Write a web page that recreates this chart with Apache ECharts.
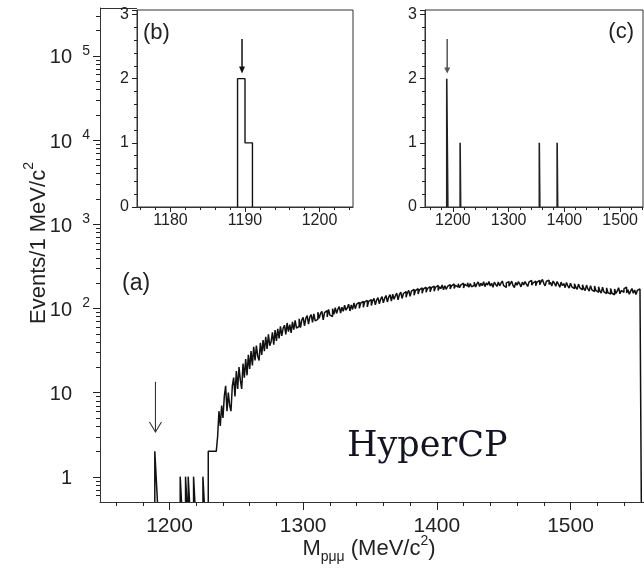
<!DOCTYPE html>
<html><head><meta charset="utf-8">
<script src="https://cdn.jsdelivr.net/npm/echarts@6/dist/echarts.min.js"></script>
<style>html,body{margin:0;padding:0;background:#fff}#c{width:644px;height:574px}</style>
</head><body><div id="c"></div>
<script>
// ---------- DATA ----------
// Main histogram (a), 1 MeV bins. Sparse low-mass region 1189..1235
const lowBinStart = 1189;
const lowCounts = [2,1, 0,0,0,0,0,0,0,0,0,0,0,0,0,0,0,0,0, 1, 0,0,0, 1, 0, 1, 0,0,0, 1, 0,0,0,0,0,0, 1, 0,0,0, 2,2,2,2,2,2,2];
// Continuum 1236..1552
const contBinStart = 1236;
const contCounts = [
  3, 6, 4, 7, 5, 9, 12, 6, 10, 7,
  6, 12, 15, 9, 18, 11, 20, 14, 11, 22,
  15, 25, 16, 28, 19, 31, 21, 35, 24, 36,
  27, 24, 39, 28, 42, 31, 46, 33, 49, 36,
  40, 52, 37, 55, 41, 57, 44, 61, 47, 58,
  63, 49, 67, 53, 64, 51, 69, 56, 72, 58,
  61, 75, 59, 73, 78, 62, 76, 82, 65, 79,
  84, 68, 86, 71, 74, 90, 76, 87, 92, 73,
  89, 94, 79, 97, 83, 80, 99, 85, 102, 87,
  98, 105, 88, 103, 92, 109, 95, 101, 112, 93,
  110, 97, 116, 99, 112, 118, 100, 115, 121, 103,
  119, 124, 104, 121, 127, 108, 123, 131, 110, 126,
  134, 113, 129, 138, 116, 132, 142, 119, 136, 145,
  122, 147, 128, 141, 152, 126, 146, 156, 131, 150,
  158, 135, 154, 163, 139, 160, 168, 143, 162, 171,
  148, 166, 175, 151, 170, 178, 155, 172, 181, 157,
  176, 184, 160, 178, 187, 163, 181, 171, 189, 166,
  186, 168, 182, 192, 170, 185, 195, 172, 188, 179,
  196, 176, 190, 199, 174, 193, 183, 201, 178, 197,
  180, 188, 204, 179, 195, 206, 182, 198, 186, 207,
  181, 200, 189, 209, 184, 198, 178, 205, 193, 182,
  206, 185, 199, 211, 186, 177, 201, 208, 183, 196,
  210, 187, 176, 203, 188, 207, 195, 180, 205, 190,
  208, 194, 182, 206, 214, 189, 200, 211, 186, 205,
  215, 191, 207, 220, 198, 185, 210, 216, 192, 204,
  184, 211, 199, 183, 208, 193, 178, 205, 186, 197,
  176, 203, 185, 174, 199, 180, 171, 196, 178, 168,
  194, 175, 166, 191, 172, 162, 189, 170, 160, 186,
  166, 158, 184, 163, 155, 180, 161, 152, 178, 157,
  150, 175, 154, 148, 172, 151, 145, 170, 150, 161,
  176, 149, 163, 155, 171, 178, 152, 166, 147, 160,
  172, 151, 165, 146, 163, 170, 160
];
// Inset (b): signal region
const insetBBins = [1189, 1190];
const insetBCounts = [2, 1];
// Inset (c): events after final cuts
const insetCBins = [1189, 1190, 1213, 1355, 1387];
const insetCCounts = [2, 1, 1, 1, 1];

// Arrows [x, from, to]
const arrowA = [1189.5, 13.4, 3.4];
const arrowB = [1189.6, 2.62, 2.08];
const arrowC = [1189.8, 2.62, 2.08];

// Tick values
const mainXTicks = [1200, 1300, 1400, 1500];
const mainXMinor = [1160, 1180, 1220, 1240, 1260, 1280, 1320, 1340, 1360, 1380, 1420, 1440, 1460, 1480, 1520, 1540];
const mainYDecades = [1, 10, 100, 1000, 10000, 100000];
const mainYMinorMult = [2, 3, 4, 5, 6, 7, 8, 9];
const bXTicks = [1180, 1190, 1200];
const bXMinor = [1176, 1178, 1182, 1184, 1186, 1188, 1192, 1194, 1196, 1198, 1202, 1204];
const cXTicks = [1200, 1300, 1400, 1500];
const cXMinor = [1160, 1180, 1220, 1240, 1260, 1280, 1320, 1340, 1360, 1380, 1420, 1440, 1460, 1480, 1520, 1540];

// ---------- helpers ----------
function stepPoints(binStart, counts, floor) {
  const pts = [];
  let prevZero = true;
  for (let i = 0; i < counts.length; i++) {
    const x0 = binStart + i, v = counts[i];
    if (v <= 0) {
      if (!prevZero) { pts.push([x0, floor]); pts.push([x0, null]); }
      prevZero = true; continue;
    }
    if (prevZero) pts.push([x0, floor]);
    pts.push([x0, v]); pts.push([x0 + 1, v]);
    prevZero = false;
  }
  if (!prevZero) pts.push([binStart + counts.length, floor]);
  return pts;
}
function sparseToDense(bins, counts) {
  const s = Math.min(...bins), e = Math.max(...bins);
  const arr = new Array(e - s + 1).fill(0);
  bins.forEach((b, i) => { arr[b - s] += counts[i]; });
  return { start: s, counts: arr };
}

const FONT = 'Liberation Sans';
const AX = '#333', TK = '#222', TX = '#222', LN = '#111';

const mainXMin = 1148, mainXMax = 1555, mainYMin = 0.5, mainYMax = 3.7e5;
const mainPts = stepPoints(lowBinStart, lowCounts.concat(contCounts), mainYMin);
const bD = sparseToDense(insetBBins, insetBCounts);
const cD = sparseToDense(insetCBins, insetCCounts);
const bPts = stepPoints(bD.start, bD.counts, 0);
const cPts = stepPoints(cD.start, cD.counts, 0);

// positions of the log-axis ticks (drawn through the axis scale)
const majorTickData = mainYDecades.map(v => [mainXMin, v]);
const minorTickData = [];
[0.1, 1, 10, 100, 1000, 10000, 100000].forEach(d => mainYMinorMult.forEach(k => {
  const v = k * d;
  if (v > mainYMin && v < mainYMax) minorTickData.push([mainXMin, v]);
}));

function xAxisPair(grid, min, max, ticks, minor, fs, margin, majLen, minLen) {
  return [{
    type: 'value', gridIndex: grid, min, max, position: 'bottom',
    axisLine: { show: true, onZero: false, lineStyle: { color: AX, width: 1 } },
    axisTick: { show: true, customValues: ticks, length: majLen, lineStyle: { color: TK } },
    axisLabel: { show: true, customValues: ticks, fontSize: fs, fontFamily: FONT, color: TX, margin,
      formatter: v => String(Math.round(v)) },
    splitLine: { show: false }
  }, {
    type: 'value', gridIndex: grid, min, max, position: 'bottom',
    axisLine: { show: false, onZero: false },
    axisTick: { show: true, customValues: minor, length: minLen, lineStyle: { color: TK } },
    axisLabel: { show: false }, splitLine: { show: false }
  }];
}
function insetY(grid) {
  return {
    type: 'value', gridIndex: grid, min: 0, max: 3.07, interval: 1,
    axisLine: { show: true, onZero: false, lineStyle: { color: AX } },
    axisTick: { show: true, length: 5, lineStyle: { color: TK } },
    minorTick: { show: true, splitNumber: 5, length: 3, lineStyle: { color: TK } },
    axisLabel: { fontSize: 16, fontFamily: FONT, color: TX, margin: 8,
      formatter: v => (Math.abs(v - Math.round(v)) < 1e-6 ? String(Math.round(v)) : '') },
    splitLine: { show: false }
  };
}
function arrowSeries(xi, yi, data, filled, color, hl, hw, lw) {
  return {
    type: 'custom', xAxisIndex: xi, yAxisIndex: yi, clip: false, silent: true, z: 5,
    data: [data],
    renderItem: (params, api) => {
      const p1 = api.coord([api.value(0), api.value(1)]);
      const p2 = api.coord([api.value(0), api.value(2)]);
      const children = [];
      if (filled) {
        children.push({ type: 'line', shape: { x1: p1[0], y1: p1[1], x2: p2[0], y2: p2[1] - hl + 1 }, style: { stroke: color, lineWidth: lw } });
        children.push({ type: 'polygon', shape: { points: [[p2[0] - hw, p2[1] - hl], [p2[0] + hw, p2[1] - hl], [p2[0], p2[1]]] }, style: { fill: color } });
      } else {
        children.push({ type: 'line', shape: { x1: p1[0], y1: p1[1], x2: p2[0], y2: p2[1] }, style: { stroke: color, lineWidth: lw } });
        children.push({ type: 'polyline', shape: { points: [[p2[0] - hw, p2[1] - hl], [p2[0], p2[1]], [p2[0] + hw, p2[1] - hl]] }, style: { stroke: color, lineWidth: lw, fill: null } });
      }
      return { type: 'group', children };
    }
  };
}
function tickSeries(data, len, color) {
  return {
    type: 'custom', xAxisIndex: 0, yAxisIndex: 0, clip: false, silent: true, z: 6,
    data: data,
    renderItem: (params, api) => {
      const p = api.coord([api.value(0), api.value(1)]);
      return { type: 'rect', shape: { x: p[0] - len, y: Math.round(p[1]), width: len, height: 1 }, style: { fill: color } };
    }
  };
}

const chart = echarts.init(document.getElementById('c'), null, { renderer: 'canvas' });
chart.setOption({
  animation: false,
  backgroundColor: '#fff',
  grid: [
    { left: 100, top: 8, right: -2, bottom: 72, show: false },
    { left: 137, top: 10, width: 216, height: 197, show: true, borderColor: AX, borderWidth: 1, backgroundColor: '#fff' },
    { left: 425, top: 10, width: 218, height: 197, show: true, borderColor: AX, borderWidth: 1, backgroundColor: '#fff' }
  ],
  xAxis: [].concat(
    xAxisPair(0, mainXMin, mainXMax, mainXTicks, mainXMinor, 21, 14, 8, 4),
    xAxisPair(1, 1175.5, 1204.5, bXTicks, bXMinor, 16, 6, 5, 3),
    xAxisPair(2, 1150, 1541, cXTicks, cXMinor, 16, 6, 5, 3)
  ),
  yAxis: [
    {
      type: 'log', gridIndex: 0, min: mainYMin, max: mainYMax, logBase: 10, position: 'left',
      axisLine: { show: true, onZero: false, lineStyle: { color: AX } },
      axisTick: { show: false },
      splitLine: { show: false },
      axisLabel: {
        margin: 10, align: 'right',
        formatter: v => {
          const l = Math.log10(v), e = Math.round(l);
          if (Math.abs(l - e) > 1e-3) return '';
          if (e === 0) return '{b|1}{p| }';
          if (e === 1) return '{b|10}{p| }';
          return '{b|10}{s|' + e + '}';
        },
        rich: {
          b: { fontSize: 20, lineHeight: 24, verticalAlign: 'bottom', fontFamily: FONT, color: TX },
          s: { fontSize: 14, lineHeight: 14, verticalAlign: 'top', width: 18, align: 'right', fontFamily: FONT, color: TX },
          p: { fontSize: 14, width: 18, fontFamily: FONT, color: TX }
        }
      }
    },
    insetY(1),
    insetY(2)
  ],
  series: [
    { type: 'line', xAxisIndex: 0, yAxisIndex: 0, data: mainPts, showSymbol: false, symbol: 'none', connectNulls: false,
      lineStyle: { color: LN, width: 1.5 }, z: 3 },
    { type: 'line', xAxisIndex: 2, yAxisIndex: 1, data: bPts, showSymbol: false, symbol: 'none', connectNulls: false,
      lineStyle: { color: LN, width: 1.4 }, z: 3 },
    { type: 'line', xAxisIndex: 4, yAxisIndex: 2, data: cPts, showSymbol: false, symbol: 'none', connectNulls: false,
      lineStyle: { color: '#222', width: 1.6 }, z: 3 },
    tickSeries(majorTickData, 7, TK),
    tickSeries(minorTickData, 4, TK),
    arrowSeries(0, 0, arrowA, false, '#333', 10, 6, 1.1),
    arrowSeries(2, 1, arrowB, true, '#111', 7, 3, 1.5),
    arrowSeries(4, 2, arrowC, true, '#555', 6, 3, 1.5)
  ],
  graphic: [
    { type: 'line', shape: { x1: 100, y1: 8.5, x2: 137, y2: 8.5 }, style: { stroke: AX, lineWidth: 1 } },
    { type: 'text', x: 122, y: 284, style: { text: '(a)', fontSize: 23, fontFamily: FONT, fill: TX, verticalAlign: 'middle' } },
    { type: 'text', x: 143, y: 33, z: 100, style: { text: '(b)', fontSize: 22, fontFamily: FONT, fill: TX, verticalAlign: 'middle' } },
    { type: 'text', x: 634, y: 32, z: 100, style: { text: '(c)', fontSize: 22, fontFamily: FONT, fill: TX, align: 'right', verticalAlign: 'middle' } },
    { type: 'text', x: 347, y: 447, style: { text: 'HyperCP', fontSize: 35, fontFamily: 'DejaVu Serif', fill: '#141420', verticalAlign: 'middle' } },
    { type: 'text', x: 36, y: 243, rotation: Math.PI / 2,
      style: { text: '{b|Events/1 MeV/c}{s|2}', align: 'center', verticalAlign: 'middle',
        rich: {
          b: { fontSize: 22, lineHeight: 28, verticalAlign: 'bottom', fontFamily: FONT, fill: TX },
          s: { fontSize: 14, lineHeight: 14, verticalAlign: 'top', fontFamily: FONT, fill: TX }
        } } },
    { type: 'text', x: 369, y: 549,
      style: { text: '{b|M}{sub|pμμ}{b| (MeV/c}{s|2}{b|)}', align: 'center', verticalAlign: 'middle',
        rich: {
          b: { fontSize: 22, lineHeight: 22, verticalAlign: 'middle', fontFamily: FONT, fill: TX },
          sub: { fontSize: 14, lineHeight: 30, verticalAlign: 'bottom', fontFamily: FONT, fill: TX },
          s: { fontSize: 14, lineHeight: 30, verticalAlign: 'top', fontFamily: FONT, fill: TX }
        } } }
  ]
});
</script>
</body></html>
